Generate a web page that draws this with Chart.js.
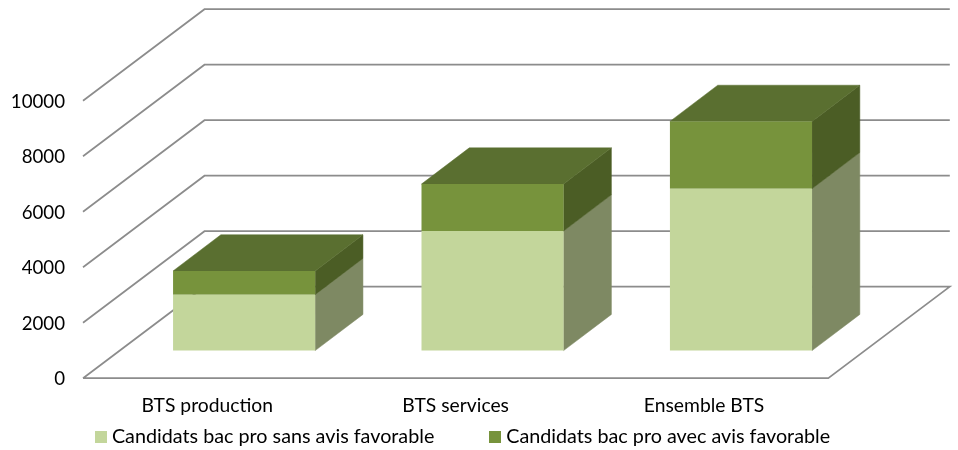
<!DOCTYPE html>
<html>
<head>
<meta charset="utf-8">
<style>html,body{margin:0;padding:0;background:#fff}canvas{display:block}</style>
<script src="https://cdn.jsdelivr.net/npm/chart.js@4"></script>
</head>
<body>
<canvas id="c" width="958" height="450"></canvas>
<script>
const categories = ['BTS production', 'BTS services', 'Ensemble BTS'];
const sansAvis = [2016, 4310, 5833];
const avecAvis = [854, 1692, 2426];
const seriesNames = ['Candidats bac pro sans avis favorable', 'Candidats bac pro avec avis favorable'];
const yTicks = [0, 2000, 4000, 6000, 8000, 10000];

const FRONT = ['#C3D69B', '#77933C'];
const SIDE = ['#7E8963', '#4B5D25'];
const TOP = '#5A6F30';
const GRID = '#8C8C8C';
// depth of the walls, and offset of the bar block inside that depth
const WALL = {dx: 121.5, dy: -91.5};
const BAR_OFF = {dx: 36.9, dy: -27.6};
const BAR_DEPTH = {dx: 47.8, dy: -36.2};

function swatch(color) {
  const s = document.createElement('canvas');
  s.width = 12; s.height = 12;
  const g = s.getContext('2d');
  g.fillStyle = color; g.fillRect(0, 0, 12, 12);
  return s;
}
function poly(ctx, pts, fill) {
  ctx.beginPath();
  pts.forEach((p, i) => i ? ctx.lineTo(p[0], p[1]) : ctx.moveTo(p[0], p[1]));
  ctx.closePath();
  ctx.fillStyle = fill;
  ctx.strokeStyle = fill;
  ctx.lineWidth = 0.5;
  ctx.fill();
  ctx.stroke();
}

const box3d = {
  id: 'box3d',
  beforeLayout(chart) {
    const lg = chart.legend;
    if (lg && !lg._wrapped) {
      const f = lg.fit;
      lg.fit = function () {
        this.maxWidth = 2000;
        f.call(this);
        this.width = 958;
        this.height = 0;
      };
      lg._wrapped = true;
    }
  },
  afterLayout(chart) {
    const lg = chart.legend;
    lg.left = 40; lg.right = 958; lg.top = 367; lg.bottom = 470;
  },
  beforeDatasetsDraw(chart) {
    const ctx = chart.ctx, y = chart.scales.y, a = chart.chartArea;
    ctx.save();
    ctx.strokeStyle = GRID;
    ctx.lineWidth = 1.7;
    y.ticks.forEach(t => {
      const py = y.getPixelForValue(t.value);
      ctx.beginPath();
      ctx.moveTo(a.left, py);
      ctx.lineTo(a.left + WALL.dx, py + WALL.dy);
      ctx.lineTo(a.right + WALL.dx, py + WALL.dy);
      if (t.value === 0) {
        ctx.lineTo(a.right, py);
        ctx.lineTo(a.left, py);
      }
      ctx.stroke();
    });
    ctx.restore();
    // side and top faces, drawn from the bar elements themselves
    ctx.save();
    ctx.translate(BAR_OFF.dx, BAR_OFF.dy);
    const d = BAR_DEPTH;
    chart.data.datasets.forEach((ds, di) => {
      chart.getDatasetMeta(di).data.forEach(b => {
        const p = b.getProps(['x', 'y', 'base', 'width'], true);
        const r = p.x + p.width / 2, l = p.x - p.width / 2;
        poly(ctx, [[r, p.y], [r + d.dx, p.y + d.dy], [r + d.dx, p.base + d.dy], [r, p.base]], SIDE[di]);
        if (di === chart.data.datasets.length - 1) {
          poly(ctx, [[l, p.y], [l + d.dx, p.y + d.dy], [r + d.dx, p.y + d.dy], [r, p.y]], TOP);
        }
      });
    });
    // front faces are the library's bars, moved into the depth
  },
  afterDatasetsDraw(chart) {
    chart.ctx.restore();
  }
};

new Chart(document.getElementById('c'), {
  type: 'bar',
  data: {
    labels: categories,
    datasets: [
      {label: seriesNames[0], data: sansAvis, backgroundColor: FRONT[0], borderWidth: 0},
      {label: seriesNames[1], data: avecAvis, backgroundColor: FRONT[1], borderWidth: 0}
    ]
  },
  options: {
    responsive: false,
    animation: false,
    layout: {padding: {left: 0, top: 100.7, right: 129.7, bottom: 0}},
    categoryPercentage: 0.572,
    barPercentage: 1,
    clip: false,
    scales: {
      x: {
        stacked: true,
        grid: {display: false},
        border: {display: false},
        ticks: {color: '#000', font: {family: 'Lato', size: 19.3}, padding: 8, maxRotation: 0},
        afterFit(s) { s.height = 71.8; }
      },
      y: {
        stacked: true,
        min: 0,
        max: 10000,
        grid: {display: false},
        border: {display: false},
        ticks: {
          color: '#000',
          font: {family: 'Lato', size: 18.7},
          padding: 10,
          labelOffset: 1,
          stepSize: 2000,
          callback: v => yTicks.includes(v) ? String(v) : ''
        },
        afterFit(s) { s.width = 83; }
      }
    },
    plugins: {
      tooltip: {enabled: false},
      legend: {
        display: true,
        position: 'bottom',
        align: 'start',
        labels: {
          color: '#000',
          font: {family: 'Lato', size: 19.75},
          usePointStyle: true,
          boxWidth: 2,
          padding: 60,
          generateLabels(chart) {
            return chart.data.datasets.map((ds, i) => ({
              text: ds.label,
              datasetIndex: i,
              fontColor: '#000',
              pointStyle: swatch(FRONT[i]),
              fillStyle: FRONT[i],
              lineWidth: 0,
              hidden: false
            }));
          }
        }
      }
    }
  },
  plugins: [box3d]
});
</script>
</body>
</html>
